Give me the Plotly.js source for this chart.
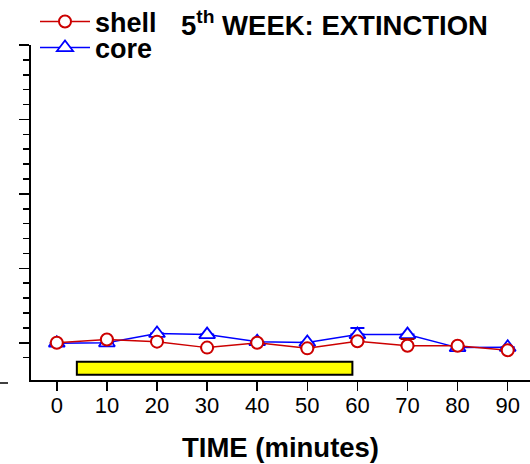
<!DOCTYPE html>
<html>
<head>
<meta charset="utf-8">
<script src="https://cdn.plot.ly/plotly-3.0.1.min.js"></script>
<style>
  html, body { margin: 0; padding: 0; background: #ffffff; }
  #chart { width: 530px; height: 464px; }
</style>
</head>
<body>
<div id="chart"></div>
<script>
// Time points (minutes)
const timeMin = [0, 10, 20, 30, 40, 50, 60, 70, 80, 90];

// Responses per time point
const shellValues = [100, 104.5, 101.5, 93.5, 100, 92.5, 102, 96, 96, 90];
const coreValues  = [99.5, 100, 112.5, 111, 101.5, 100.5, 111, 111, 93.5, 94];

// Upper error (NaN where no bar is drawn)
const shellErrUp = [NaN, NaN, NaN, NaN, NaN, NaN, NaN, 9, NaN, NaN];
const coreErrUp  = [NaN, NaN, NaN, NaN, NaN, NaN, 8.7, NaN, NaN, NaN];

// Session period shown as the yellow bar (minutes) and its vertical extent
const sessionStart = 4;
const sessionEnd = 59;
const sessionLow = 57;
const sessionHigh = 74.5;

const xTickVals = [0, 10, 20, 30, 40, 50, 60, 70, 80, 90];

const FONT = 'Liberation Sans, Arial, Helvetica, sans-serif';
const RED = '#cc0000';
const BLUE = '#0000ff';

// plot area in pixels, used to place the legends in paper units
const PLOT_L = 31, PLOT_W = 499, PLOT_B = 380, PLOT_H = 335;
const px2x = (px) => (px - PLOT_L) / PLOT_W;
const px2y = (py) => (PLOT_B - py) / PLOT_H;

const zeros = timeMin.map(() => 0);

// minor ticks every 20 between the majors (none under the lowest major)
const minorVals = [];
for (let v = 80; v < 500; v += 20) { if (v % 100 !== 0) minorVals.push(v); }

const core = {
  x: timeMin, y: coreValues, name: 'core', type: 'scatter', mode: 'lines+markers',
  legend: 'legend3',
  line: { color: BLUE, width: 1.5 },
  marker: { symbol: 'triangle-up', size: 14, color: '#ffffff', line: { color: BLUE, width: 1.8 } },
  error_y: { type: 'data', symmetric: false, array: coreErrUp, arrayminus: zeros,
             color: BLUE, thickness: 2, width: 7 }
};

const shell = {
  x: timeMin, y: shellValues, name: 'shell', type: 'scatter', mode: 'lines+markers',
  legend: 'legend2',
  line: { color: RED, width: 1.5 },
  marker: { symbol: 'circle', size: 12, color: '#ffffff', line: { color: RED, width: 2 } },
  error_y: { type: 'data', symmetric: false, array: shellErrUp, arrayminus: zeros,
             color: '#990000', thickness: 2, width: 7 }
};

const legendFont = { family: FONT, size: 27, weight: 'bold', color: '#000000' };

const layout = {
  width: 530, height: 464,
  margin: { l: PLOT_L, r: 0, t: 45, b: 464 - PLOT_B, autoexpand: false },
  paper_bgcolor: '#ffffff', plot_bgcolor: '#ffffff',
  font: { family: FONT, color: '#000000' },
  title: {
    text: '5<sup>th</sup> WEEK: EXTINCTION',
    font: { family: FONT, size: 27.5, weight: 'bold', color: '#000000' },
    xref: 'container', x: 181 / 530, xanchor: 'left',
    yref: 'container', y: 1 - 25 / 464, yanchor: 'middle'
  },
  xaxis: {
    range: [-5.15, 94.45],
    tickmode: 'array', tickvals: xTickVals,
    ticks: 'outside', ticklen: 9, tickwidth: 1.5, tickcolor: '#000000',
    ticklabelstandoff: -4,
    showline: true, linecolor: '#000000', linewidth: 2,
    showgrid: false, zeroline: false,
    tickfont: { family: FONT, size: 22, color: '#000000' },
    title: { text: 'TIME (minutes)', font: { family: FONT, size: 27.5, weight: 'bold', color: '#000000' }, standoff: 20 }
  },
  yaxis: {
    range: [50, 500],
    tickmode: 'linear', tick0: 0, dtick: 100,
    ticks: 'outside', ticklen: 10, tickwidth: 1.5, tickcolor: '#000000',
    minor: { tickmode: 'array', tickvals: minorVals, ticks: 'outside', ticklen: 6, tickwidth: 1.5, tickcolor: '#000000', showgrid: false },
    showticklabels: false,
    showline: true, linecolor: '#000000', linewidth: 2,
    showgrid: false, zeroline: false
  },
  showlegend: true,
  legend2: {
    xref: 'paper', yref: 'paper', x: px2x(35), xanchor: 'left', y: px2y(22), yanchor: 'middle',
    bgcolor: 'rgba(0,0,0,0)', borderwidth: 0, itemwidth: 50, font: legendFont
  },
  legend3: {
    xref: 'paper', yref: 'paper', x: px2x(35), xanchor: 'left', y: px2y(48), yanchor: 'middle',
    bgcolor: 'rgba(0,0,0,0)', borderwidth: 0, itemwidth: 50, font: legendFont
  },
  shapes: [
    { type: 'rect', xref: 'x', yref: 'y', x0: sessionStart, x1: sessionEnd, y0: sessionLow, y1: sessionHigh,
      fillcolor: '#ffff00', line: { color: '#000000', width: 2 }, layer: 'above' },
    { type: 'line', xref: 'paper', yref: 'paper', x0: px2x(0), x1: px2x(8), y0: px2y(383), y1: px2y(383),
      line: { color: '#000000', width: 1.5 } }
  ]
};

Plotly.newPlot('chart', [core, shell], layout, { displayModeBar: false, staticPlot: true });
</script>
</body>
</html>
